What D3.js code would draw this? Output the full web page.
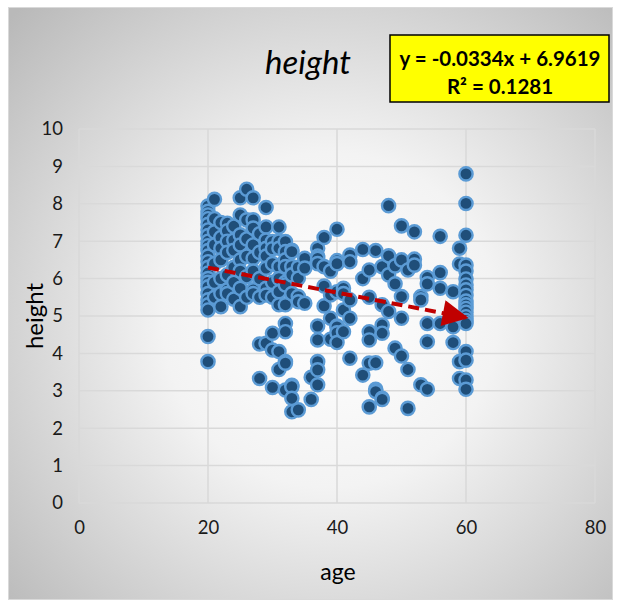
<!DOCTYPE html>
<html>
<head>
<meta charset="utf-8">
<script src="https://cdn.jsdelivr.net/npm/d3@7"></script>
<style>
  html, body { margin: 0; padding: 0; background: #ffffff; }
  svg { display: block; }
  text { font-family: Lato, "Open Sans", "Liberation Sans", sans-serif; }
</style>
</head>
<body>
<div id="chart"></div>
<script>
// Survey sample: age of each respondent and the matching "height" score.
const ages = [
  20,20,20,20,20,20,20,20,20,20,20,20,20,20,20,20,20,20,20,20,20,20,20,
  21,21,21,21,21,21,21,
  22,22,22,22,22,22,22,
  23,23,23,23,23,23,23,
  24,24,24,24,24,24,
  25,25,25,25,25,25,25,25,
  26,26,26,26,26,26,
  27,27,27,27,27,27,27,27,
  28,28,28,28,28,28,
  29,29,29,29,29,29,29,29,29,
  30,30,30,30,30,30,30,30,
  31,31,31,31,31,31,31,31,31,
  32,32,32,32,32,32,32,32,32,32,32,32,
  33,33,33,33,33,33,33,33,33,
  34,34,34,34,34,
  35,35,35,
  36,36,
  37,37,37,37,37,37,37,37,37,
  38,38,38,38,
  39,39,39,39,
  40,40,40,40,40,40,40,40,
  41,41,41,41,
  42,42,42,42,42,
  44,44,44,
  45,45,45,45,45,45,
  46,46,46,46,
  47,47,47,47,47,47,
  48,48,48,48,
  49,49,49,
  50,50,50,50,50,
  51,51,51,
  52,52,52,
  53,53,53,
  54,54,54,54,54,
  56,56,56,56,
  58,58,58,
  59,59,59,59,
  60,60,60,60,60,60,60,60,60,60,60,60,60,60,60,60,60,60,60,60
];
const heights = [
  7.94,7.8,7.7,7.6,7.45,7.3,7.15,7.0,6.88,6.75,6.6,6.45,6.3,6.15,6.0,5.9,5.78,5.6,5.43,5.3,5.16,4.45,3.78,
  8.12,7.6,7.25,6.9,6.4,5.9,5.5,
  7.5,7.1,6.81,6.5,6.0,5.6,5.25,
  7.48,7.28,7.0,6.7,6.1,5.7,5.6,
  7.4,7.03,6.76,6.3,5.9,5.45,
  8.16,7.7,7.17,6.9,6.5,6.2,5.74,5.25,
  8.39,7.57,7.06,6.6,6.05,5.5,
  8.16,7.57,7.35,6.9,6.54,6.2,5.7,5.6,
  7.2,6.7,6.0,5.5,4.25,3.33,
  7.9,7.38,7.03,6.81,6.6,6.28,5.74,5.56,4.27,
  6.99,6.8,6.4,5.9,5.5,4.54,4.09,3.09,
  7.38,7.0,6.81,6.32,6.0,5.65,5.3,4.05,3.57,
  6.99,6.72,6.5,6.32,5.9,5.83,5.3,4.8,4.58,3.78,3.74,3.02,
  6.76,6.72,6.32,6.1,5.6,3.15,3.11,2.8,2.44,
  6.3,6.01,5.52,5.38,2.49,
  6.54,6.28,5.34,
  3.36,2.77,
  6.81,6.6,6.54,6.4,4.73,4.36,3.78,3.56,3.16,
  7.1,6.32,5.8,5.27,
  6.2,5.56,4.94,4.38,
  7.32,6.48,6.4,5.65,4.73,4.71,4.55,4.29,
  5.74,5.6,5.16,4.58,
  6.63,6.45,5.43,4.94,3.87,
  6.78,6.0,3.42,
  6.23,5.5,4.58,4.36,3.74,2.57,
  6.75,3.75,3.04,2.98,
  6.32,5.3,4.76,4.54,2.8,2.77,
  7.95,6.61,6.1,5.12,
  6.34,5.86,4.14,
  7.41,6.5,5.52,4.94,3.93,
  6.23,3.57,2.53,
  7.25,6.52,6.36,
  5.52,5.43,3.16,
  6.03,5.86,4.8,4.31,3.04,
  7.13,6.16,5.74,4.8,
  5.65,4.71,4.29,
  6.81,6.39,3.78,3.33,
  8.8,8.01,7.16,6.36,6.2,5.99,5.83,5.7,5.55,5.4,5.3,5.2,5.1,4.98,4.88,4.8,4.05,3.82,3.29,3.04
];

// Axis ticks and the fitted linear trend (Excel-style labels).
const xTicks = [0, 20, 40, 60, 80];
const yTicks = [0, 1, 2, 3, 4, 5, 6, 7, 8, 9, 10];
const trendSlope = -0.0334;
const trendIntercept = 6.9619;
const trendRange = [20, 60];
const equationLines = ["y = -0.0334x + 6.9619", "R² = 0.1281"];

const W = 621, H = 607;
const svg = d3.select("#chart").append("svg")
  .attr("width", W).attr("height", H);

const defs = svg.append("defs");
const bg = defs.append("radialGradient")
  .attr("id", "bgGrad")
  .attr("gradientUnits", "userSpaceOnUse")
  .attr("cx", 330).attr("cy", 320).attr("r", 440);
bg.append("stop").attr("offset", "0%").attr("stop-color", "#ffffff");
bg.append("stop").attr("offset", "38%").attr("stop-color", "#f3f3f3");
bg.append("stop").attr("offset", "100%").attr("stop-color", "#b9b9b9");

defs.append("marker")
  .attr("id", "arrow")
  .attr("viewBox", "0 0 10 10")
  .attr("refX", 9).attr("refY", 5)
  .attr("markerUnits", "userSpaceOnUse")
  .attr("markerWidth", 29).attr("markerHeight", 26)
  .attr("orient", "auto")
  .append("path")
  .attr("d", "M0,0 L10,5 L0,10 Z")
  .attr("fill", "#c00000");

// Chart area with radial fill
svg.append("rect")
  .attr("x", 8.5).attr("y", 7.5).attr("width", 604).attr("height", 592)
  .attr("fill", "url(#bgGrad)")
  .attr("stroke", "#d9d9d9").attr("stroke-width", 1);

const plot = { left: 79, right: 595, top: 129, bottom: 503 };
const x = d3.scaleLinear().domain([0, 80]).range([plot.left, plot.right]);
const y = d3.scaleLinear().domain([0, 10]).range([plot.bottom, plot.top]);

// Gridlines
const grid = svg.append("g");
grid.selectAll("line.h").data(yTicks).join("line")
  .attr("x1", plot.left).attr("x2", plot.right)
  .attr("y1", d => y(d)).attr("y2", d => y(d))
  .attr("stroke", "#d9d9d9").attr("stroke-width", 1.5);
grid.selectAll("line.v").data(xTicks).join("line")
  .attr("y1", plot.top).attr("y2", plot.bottom)
  .attr("x1", d => x(d)).attr("x2", d => x(d))
  .attr("stroke", "#d9d9d9").attr("stroke-width", 1.5);

// Tick labels
const yAxis = d3.axisLeft(y).tickValues(yTicks).tickSize(0).tickPadding(16);
const yg = svg.append("g").attr("transform", `translate(${plot.left},0)`).call(yAxis);
const xAxis = d3.axisBottom(x).tickValues(xTicks).tickSize(0).tickPadding(18);
const xg = svg.append("g").attr("transform", `translate(0,${plot.bottom})`).call(xAxis);
[yg, xg].forEach(g => {
  g.select(".domain").remove();
  g.selectAll("text")
    .attr("font-family", "Lato, 'Open Sans', sans-serif")
    .attr("font-size", 18.5).attr("fill", "#1a1a1a");
});

// Points
svg.append("g").selectAll("circle")
  .data(ages.map((a, i) => ({ age: a, h: heights[i] })))
  .join("circle")
  .attr("cx", d => x(d.age)).attr("cy", d => y(d.h))
  .attr("r", 6.6)
  .attr("fill", "#1f4e79")
  .attr("stroke", "#5b9bd5").attr("stroke-width", 2.4);

// Linear trendline with arrow
const trend = trendRange.map(a => ({ a, v: trendSlope * a + trendIntercept }));
svg.append("line")
  .attr("x1", x(trend[0].a)).attr("y1", y(trend[0].v))
  .attr("x2", x(trend[1].a)).attr("y2", y(trend[1].v))
  .attr("stroke", "#c00000").attr("stroke-width", 4)
  .attr("stroke-dasharray", "11,6")
  .attr("marker-end", "url(#arrow)");

// Title
svg.append("text")
  .attr("x", 308).attr("y", 74)
  .attr("text-anchor", "middle")
  .attr("font-size", 33).attr("font-style", "italic").attr("font-weight", "normal")
  .attr("fill", "#000")
  .text("height");

// Equation box
svg.append("rect")
  .attr("x", 390).attr("y", 35).attr("width", 219).attr("height", 67)
  .attr("fill", "#ffff00").attr("stroke", "#000").attr("stroke-width", 1.5);
svg.append("g").selectAll("text").data(equationLines).join("text")
  .attr("x", 500).attr("y", (d, i) => 66 + i * 28)
  .attr("text-anchor", "middle")
  .attr("font-size", 20.5).attr("font-weight", "bold")
  .attr("fill", "#000")
  .text(d => d);

// Axis titles
svg.append("text")
  .attr("x", 338).attr("y", 580)
  .attr("text-anchor", "middle")
  .attr("font-size", 23).attr("fill", "#000")
  .text("age");
svg.append("text")
  .attr("transform", "translate(43,316) rotate(-90)")
  .attr("text-anchor", "middle")
  .attr("font-size", 24).attr("fill", "#000")
  .text("height");
</script>
</body>
</html>
